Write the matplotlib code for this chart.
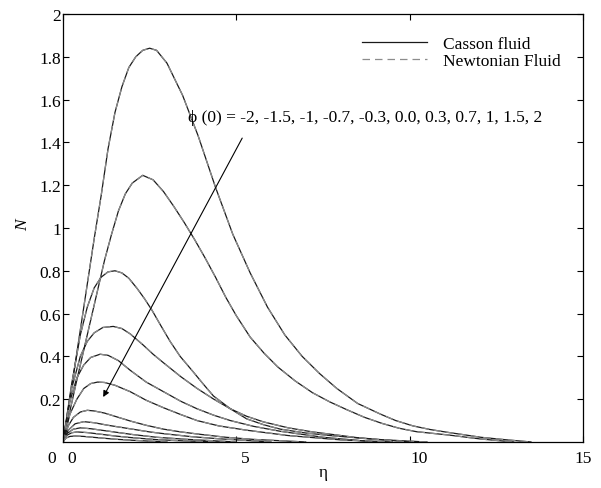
import matplotlib
matplotlib.use("Agg")
import matplotlib.pyplot as plt

# phi(0) values, one curve per value (curves)
phi0 = ["-2", "-1.5", "-1", "-0.7", "-0.3", "0.0", "0.3", "0.7", "1", "1.5", "2"]

eta1 = [0, 0.3, 0.6, 0.9, 1.1, 1.3, 1.5, 1.7, 1.9, 2.1, 2.3, 2.5, 2.7, 3.0, 3.45, 3.9, 4.4,
        4.9, 5.4, 5.9, 6.4, 6.9, 7.4, 7.9, 8.5, 9.16, 9.6, 10.1, 10.6, 11.1, 11.6, 12.05,
        12.8, 13.5]
n1 = [0, 0.31, 0.63, 0.95, 1.15, 1.37, 1.54, 1.66, 1.75, 1.80, 1.83, 1.84, 1.83, 1.77, 1.62,
      1.43, 1.19, 0.97, 0.79, 0.63, 0.50, 0.40, 0.32, 0.25, 0.18, 0.13, 0.10, 0.075, 0.058,
      0.045, 0.033, 0.022, 0.01, 0.0]

eta2 = [0, 0.4, 0.8, 1.2, 1.4, 1.6, 1.8, 2.0, 2.3, 2.6, 2.9, 3.2, 3.5, 3.8, 4.1, 4.4, 4.7,
        5.0, 5.4, 5.8, 6.2, 6.7, 7.2, 7.7, 8.2, 8.7, 9.2, 9.7, 10.2, 11.1, 12.05, 13.0]
n2 = [0, 0.29, 0.57, 0.85, 0.97, 1.08, 1.16, 1.21, 1.246, 1.225, 1.17, 1.10, 1.025, 0.945,
      0.86, 0.77, 0.675, 0.59, 0.49, 0.415, 0.35, 0.285, 0.23, 0.187, 0.15, 0.115, 0.087,
      0.064, 0.048, 0.033, 0.014, 0.0]

eta3 = [0, 0.25, 0.5, 0.7, 0.9, 1.1, 1.3, 1.5, 1.7, 1.9, 2.14, 2.35, 2.57, 2.8, 3.09, 3.38,
        3.76, 4.05, 4.34, 4.83, 5.3, 5.8, 6.27, 7.0, 7.72, 9.0, 10.5]
n3 = [0, 0.27, 0.50, 0.63, 0.72, 0.77, 0.795, 0.80, 0.79, 0.765, 0.717, 0.67, 0.615, 0.55,
      0.47, 0.40, 0.327, 0.27, 0.215, 0.155, 0.108, 0.08, 0.06, 0.042, 0.03, 0.012, 0.0]

eta4 = [0, 0.25, 0.5, 0.7, 0.9, 1.15, 1.45, 1.7, 1.94, 2.3, 2.6, 2.9, 3.4, 3.87, 4.35, 4.83,
        5.3, 5.78, 6.5, 7.2, 8.5, 10.0]
n4 = [0, 0.25, 0.40, 0.47, 0.51, 0.535, 0.54, 0.53, 0.505, 0.455, 0.41, 0.37, 0.305, 0.25,
      0.20, 0.155, 0.12, 0.094, 0.066, 0.047, 0.02, 0.0]

eta5 = [0, 0.2, 0.4, 0.6, 0.8, 1.07, 1.3, 1.6, 1.94, 2.4, 2.9, 3.4, 3.87, 4.35, 4.83, 5.5,
        6.27, 7.5, 9.0]
n5 = [0, 0.19, 0.30, 0.36, 0.395, 0.41, 0.405, 0.38, 0.335, 0.28, 0.235, 0.19, 0.155,
      0.125, 0.10, 0.073, 0.05, 0.022, 0.0]

eta6 = [0, 0.2, 0.4, 0.6, 0.8, 1.0, 1.2, 1.5, 1.94, 2.4, 2.9, 3.4, 3.87, 4.5, 5.3, 6.5, 8.0, 9.5]
n6 = [0, 0.13, 0.20, 0.25, 0.273, 0.28, 0.278, 0.265, 0.235, 0.195, 0.16, 0.128, 0.10,
      0.075, 0.055, 0.03, 0.01, 0.0]

eta7 = [0, 0.15, 0.3, 0.5, 0.7, 0.9, 1.2, 1.6, 1.94, 2.4, 2.9, 3.4, 4.0, 4.7, 5.5, 7.0]
n7 = [0, 0.075, 0.115, 0.14, 0.148, 0.145, 0.135, 0.115, 0.098, 0.078, 0.06, 0.047, 0.035,
      0.022, 0.012, 0.0]

eta8 = [0, 0.15, 0.35, 0.6, 0.9, 1.3, 2.0, 2.5, 3.0, 3.7, 4.5, 6.0]
n8 = [0, 0.055, 0.085, 0.095, 0.09, 0.078, 0.06, 0.047, 0.037, 0.025, 0.015, 0.0]

eta9 = [0, 0.12, 0.3, 0.5, 0.8, 1.2, 2.0, 2.7, 3.5, 5.0]
n9 = [0, 0.04, 0.06, 0.066, 0.062, 0.053, 0.035, 0.022, 0.013, 0.0]

eta10 = [0, 0.1, 0.25, 0.4, 0.7, 1.0, 1.5, 2.0, 2.7, 3.5, 4.5]
n10 = [0, 0.03, 0.043, 0.047, 0.044, 0.038, 0.028, 0.02, 0.011, 0.005, 0.0]

eta11 = [0, 0.08, 0.2, 0.35, 0.6, 1.0, 1.5, 2.0, 3.0]
n11 = [0, 0.018, 0.026, 0.028, 0.026, 0.02, 0.013, 0.008, 0.0]

curves = [(eta1, n1), (eta2, n2), (eta3, n3), (eta4, n4), (eta5, n5), (eta6, n6),
          (eta7, n7), (eta8, n8), (eta9, n9), (eta10, n10), (eta11, n11)]

xtick_vals = [0, 5, 10, 15]
ytick_vals = [0.2, 0.4, 0.6, 0.8, 1.0, 1.2, 1.4, 1.6, 1.8, 2.0]

plt.rcParams['font.family'] = ['Liberation Serif', 'DejaVu Serif']
fs = 12.5

fig = plt.figure(figsize=(6.01, 4.89), dpi=100)
ax = fig.add_axes([0.1048, 0.0941, 0.8652, 0.8753])

for i, (x, y) in enumerate(curves):
    ax.plot(x, y, color='0.1', lw=0.9, label='Casson fluid' if i == 0 else None)
    ax.plot(x, y, color='0.55', lw=0.9, ls=(0, (6, 4)),
            label='Newtonian Fluid' if i == 0 else None)

ax.set_xlim(0, 15)
ax.set_ylim(0, 2)
ax.set_xticks(xtick_vals)
ax.set_xticklabels([])
ax.set_yticks(ytick_vals)
ax.set_yticklabels(['%g' % v for v in ytick_vals])
ax.tick_params(direction='in', length=4, top=True, right=True, labelsize=fs, width=0.8)
ax.tick_params(axis='y', pad=1.5)
for s in ax.spines.values():
    s.set_linewidth(0.9)

# MATLAB-style tick labels sitting under the axis
for v in xtick_vals:
    dx = 0 if v == 15 else 9
    ax.annotate(str(v), xy=(v, 0), xycoords=('data', 'axes fraction'),
                xytext=(dx, -16), textcoords='offset pixels',
                ha='center', va='center', fontsize=fs)
ax.annotate('0', xy=(0, 0), xycoords='axes fraction', xytext=(-11, -16),
            textcoords='offset pixels', ha='center', va='center', fontsize=fs)

ax.set_xlabel('η', fontsize=fs)
ax.xaxis.set_label_coords(0.5, -0.052)
ax.set_ylabel('N', fontsize=fs, style='italic')
ax.yaxis.set_label_coords(-0.062, 0.509)

ax.legend(loc='upper left', bbox_to_anchor=(0.575, 0.948), frameon=False, fontsize=fs,
          handlelength=3.75, handletextpad=0.9, labelspacing=0.05,
          borderpad=0, borderaxespad=0)

ax.text(3.61, 1.52, 'ϕ (0) = ' + ', '.join(phi0), fontsize=fs, va='center', ha='left')
ax.annotate('', xy=(1.16, 0.21), xytext=(5.17, 1.42),
            arrowprops=dict(arrowstyle='-|>', color='black', lw=0.8, mutation_scale=9,
                            shrinkA=0, shrinkB=0))

fig.savefig('out.png', dpi=100)
